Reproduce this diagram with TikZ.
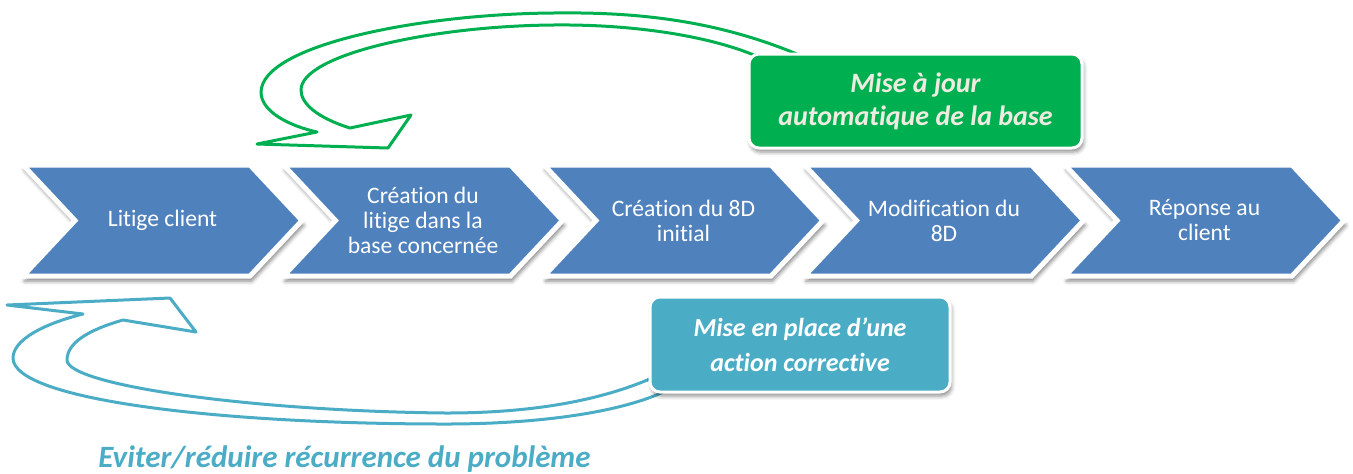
\documentclass[tikz,border=0pt]{standalone}
\usepackage{fontspec}
\setmainfont[Ligatures=NoCommon]{Carlito}
\usetikzlibrary{shadows.blur}
\definecolor{bleuetape}{HTML}{4F81BD}
\definecolor{vertmaj}{HTML}{00B050}
\definecolor{turquoise}{HTML}{4BACC6}
\definecolor{creme}{HTML}{EEECE1}
\tikzset{
etape/.style={ % chevrons of the process
fill=bleuetape, draw=white, line width=2.5pt, line join=miter,
blur shadow={shadow xshift=0.8pt, shadow yshift=-2.5pt, shadow blur radius=2pt, shadow opacity=50}},
etapetexte/.style={text=white, align=center,
font=\fontsize{11.8}{12.5}\selectfont},
encadre/.style={ % rounded callout boxes
rounded corners=5pt, draw=white, line width=1.5pt, align=center,
inner sep=0pt,
blur shadow={shadow xshift=0.8pt, shadow yshift=-2pt, shadow blur radius=2pt, shadow opacity=45}},
fleche/.style={line width=1.5pt, line join=round}}

\begin{document}
\begin{tikzpicture}[x=0.5pt, y=-0.5pt]
    \useasboundingbox (0,0) rectangle (1353,473);

    % process steps
    \foreach \x/\nom/\texte in {23/litige/{Litige client},
        283.5/creation/{Création du\\litige dans la\\base concernée},
        544/initial/{Création du 8D\\initial},
        804.5/modification/{Modification du\\8D},
        1065/reponse/{Réponse au\\client}}{
        \draw[etape] (\x,165) -- ++(227,0) -- ++(52,55.5) -- ++(-52,55.5)
            -- ++(-227,0) -- ++(52,-55.5) -- cycle;
        \node[etapetexte] (\nom) at (\x+139.5,220.5) {\texte};
    }

    % feedback arrows
    \draw[fleche, draw=vertmaj] (815,62) .. controls (720,18) and (630,12) .. (553,13)
        .. controls (420,14) and (262,45) .. (261,92)
        .. controls (261,112) and (290,126) .. (317,132)
        -- (257,144) -- (388,148) -- (411,115) -- (350,128)
        .. controls (318,118) and (301,104) .. (301,90)
        .. controls (301,55) and (430,26) .. (553,25)
        .. controls (640,24) and (720,38) .. (765,60) -- cycle;
    \draw[fleche, draw=turquoise] (665,372) .. controls (600,404) and (520,413) .. (446,413)
        .. controls (250,411) and (67,385) .. (67,360)
        .. controls (67,343) and (88,330) .. (123,320)
        -- (196,332) -- (170,298) -- (7,305) -- (83,314)
        .. controls (43,324) and (13,340) .. (13,358)
        .. controls (13,400) and (220,424) .. (446,424)
        .. controls (540,424) and (630,412) .. (675,386) -- cycle;

    % callouts
    \node[encadre, fill=vertmaj, text=creme, minimum width=166.5pt, minimum height=47pt,
        font=\fontsize{14}{16.5}\selectfont\bfseries\itshape] (majbase) at (915.5,101)
        {Mise à jour\\automatique de la base};
    \node[encadre, fill=turquoise, text=white, minimum width=150pt, minimum height=47.5pt,
        font=\fontsize{13}{17.5}\selectfont\bfseries\itshape] (action) at (800,344.5)
        {Mise en place d’une\\action corrective};
    \node[text=turquoise, font=\fontsize{15.5}{18}\selectfont\bfseries\itshape]
        (recurrence) at (344.5,459) {Eviter/réduire récurrence du problème};

\end{tikzpicture}
\end{document}
